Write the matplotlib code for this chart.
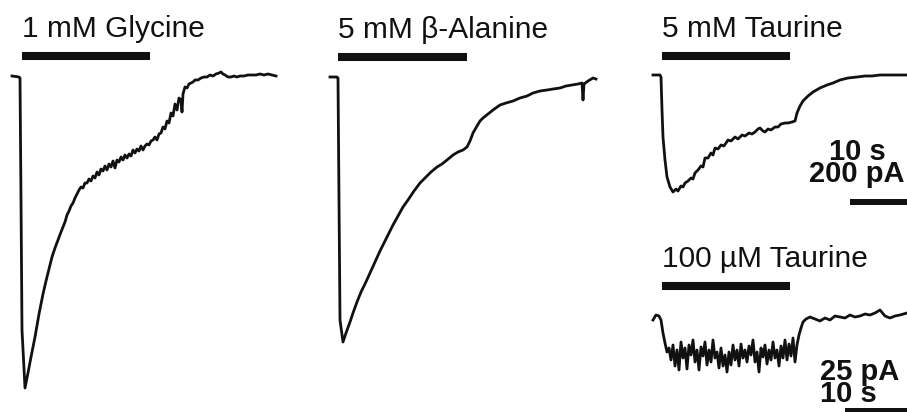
"""
Whole-cell currents evoked by glycine-receptor agonists.
Four traces, one invisible full-figure axes each, offset so the
traces sit side by side like the original figure.
"""
import matplotlib
matplotlib.use("Agg")
import matplotlib.pyplot as plt

plt.rcParams["font.family"] = ["Liberation Sans", "DejaVu Sans"]

W, H = 907, 412          # output size, px
PX_PER_S = 8.0           # horizontal scale shared by all traces

# ---- 1 mM glycine (s, pA) ----
GLY_T = [0, 0.875, 1.0, 1.125, 1.25, 1.625, 2.0, 2.375, 2.875, 3.375, 3.875,
         4.25, 4.625, 5.0, 5.375, 5.75, 6.125, 6.375, 6.625, 6.875, 7.125,
         7.375, 7.625, 7.875, 8.125, 8.375, 8.625, 8.875, 9.125, 9.375,
         9.625, 9.875, 10.125, 10.375, 10.625, 10.875, 11.125, 11.375,
         11.625, 11.875, 12.125, 12.375, 12.625, 12.875, 13.125, 13.375,
         13.625, 13.875, 14.125, 14.375, 14.625, 14.875, 15.125, 15.375,
         15.625, 15.875, 16.125, 16.375, 16.625, 16.875, 17.125, 17.375,
         17.625, 17.875, 18.125, 18.375, 18.625, 18.875, 19.125, 19.375,
         19.625, 19.875, 20.125, 20.375, 20.625, 20.875, 21.125, 21.25,
         21.375, 21.625, 21.875, 22.125, 22.375, 22.625, 22.875, 23.25,
         23.625, 24.0, 24.375, 24.75, 25.125, 25.5, 25.875, 26.125, 26.375,
         26.625, 27.0, 27.375, 27.75, 28.125, 28.5, 29.0, 29.5, 30.0, 30.5,
         31.0, 31.5, 32.0, 32.5, 33.0]
GLY_I = [0, -4, -8, -496, -1016, -1248, -1188, -1124, -1044, -952, -872,
         -820, -772, -724, -688, -656, -624, -604, -584, -556, -540,
         -520, -508, -488, -472, -456, -444, -448, -428, -428,
         -412, -420, -400, -408, -384, -396, -372, -380,
         -360, -376, -352, -364, -340, -368, -336, -344,
         -324, -336, -316, -328, -312, -320, -296, -308,
         -292, -300, -280, -296, -280, -272, -276, -260,
         -256, -244, -256, -232, -228, -204, -212, -180,
         -188, -148, -160, -112, -136, -88, -96, -144,
         -72, -44, -48, -32, -28, -24, -16, -16,
         -8, -4, -4, 4, 0, 8, 12, 16, 8,
         4, -4, -4, 0, -4, 0, 0, 4, 4, 4,
         8, 4, 8, 4, 0]

# ---- 5 mM beta-alanine (s, pA) ----
BALA_T = [0, 0.875, 1.0, 1.125, 1.25, 1.625, 2.0, 2.5, 2.875, 3.375, 3.875,
          4.375, 5.0, 5.625, 6.25, 7.125, 7.875, 8.5, 9.125, 9.75, 10.5,
          11.25, 12.0, 12.625, 13.375, 14.0, 14.625, 15.375, 16.0, 16.625,
          17.125, 17.5, 17.875, 18.375, 18.75, 19.125, 19.75, 20.375, 21.25,
          22.0, 22.875, 23.75, 24.625, 25.375, 26.25, 27.125, 27.875, 28.75,
          29.5, 30.25, 31.0, 31.5, 31.625, 31.75, 32.25, 32.875, 33.25]
BALA_I = [0, 0, -4, -492, -972, -1060, -1024, -980, -944, -900, -860,
          -828, -784, -740, -696, -640, -592, -556, -520, -492, -456,
          -424, -400, -380, -360, -348, -332, -312, -300, -292,
          -280, -256, -224, -196, -176, -164, -148, -132, -112,
          -104, -96, -84, -76, -64, -56, -52, -48, -44,
          -36, -32, -28, -24, -92, -28, -16, -4, -8]

# ---- 5 mM taurine (s, pA) ----
TAU5_T = [0, 0.875, 1.0, 1.125, 1.25, 1.5, 1.75, 2.125, 2.5, 2.875, 3.125,
          3.5, 3.75, 4.0, 4.375, 4.75, 5.0, 5.25, 5.625, 6.0, 6.25, 6.5,
          6.875, 7.25, 7.5, 7.75, 8.125, 8.5, 8.875, 9.375, 9.75, 10.25,
          10.625, 11.125, 11.5, 12.0, 12.375, 12.75, 13.125, 13.375, 13.75,
          14.0, 14.375, 14.75, 15.25, 15.625, 16.0, 16.5, 16.875, 17.375,
          17.75, 18.0, 18.375, 18.75, 19.375, 20.0, 20.875, 21.75, 22.5,
          23.375, 24.375, 25.5, 26.5, 27.375, 28.375, 29.625, 30.875, 31.75]
TAU5_I = [4, 4, -4, -136, -244, -336, -404, -444, -464, -452, -460,
          -440, -444, -428, -420, -408, -412, -388, -376, -360, -364, -328,
          -328, -308, -316, -288, -292, -276, -280, -256, -260, -244,
          -252, -236, -240, -228, -232, -224, -212, -208, -220,
          -224, -212, -216, -204, -204, -192, -188, -188, -184,
          -180, -148, -120, -100, -80, -64, -48, -36, -28,
          -16, -8, -4, 0, 0, 4, 4, 4, 4]

# ---- 100 uM taurine (s, pA) ----
TAU01_T = [0, 0.375, 0.75, 1.0, 1.25, 1.5, 1.75, 2.0, 2.25, 2.5, 2.75, 3.0,
           3.25, 3.5, 3.75, 4.0, 4.25, 4.5, 4.75, 5.0, 5.25, 5.5, 5.75, 6.0,
           6.25, 6.5, 6.75, 7.0, 7.25, 7.5, 7.75, 8.0, 8.25, 8.5, 8.75, 9.0,
           9.25, 9.5, 9.75, 10.0, 10.25, 10.5, 10.75, 11.0, 11.25, 11.5,
           11.75, 12.0, 12.25, 12.5, 12.75, 13.0, 13.25, 13.5, 13.75, 14.0,
           14.25, 14.5, 14.75, 15.0, 15.25, 15.5, 15.75, 16.0, 16.25, 16.5,
           16.75, 17.0, 17.25, 17.5, 17.75, 18.0, 18.25, 18.5, 18.75, 19.125,
           19.625, 20.25, 20.875, 21.5, 22.125, 22.75, 23.375, 24.0, 24.625,
           25.25, 25.875, 26.5, 27.125, 27.75, 28.375, 29.0, 29.625, 30.25,
           30.875, 31.75]
TAU01_I = [0, 5, 4, 0, -13, -23, -32, -28, -40, -25, -46, -30,
           -50, -22, -38, -28, -49, -25, -35, -20, -42, -30, -50, -27,
           -36, -22, -45, -30, -42, -20, -38, -32, -48, -28, -46, -35,
           -52, -32, -45, -25, -40, -30, -46, -24, -38, -30,
           -42, -26, -35, -20, -42, -32, -52, -28, -37, -25,
           -44, -30, -40, -22, -38, -30, -46, -26, -38, -20,
           -40, -24, -36, -18, -42, -25, -15, -8, -2, 1,
           3, 1, -1, 2, 0, 4, 3, 2, 5,
           3, 4, 6, 5, 7, 10, 4, 2, 4,
           5, 7]

# drug application windows (s)
GLY_APP = (1.25, 17.25)
BALA_APP = (1.0, 17.125)
TAU5_APP = (1.125, 17.125)
TAU01_APP = (1.125, 17.125)

INK = "#111111"
TRACE_LW = 2.0
BAR_LW = 5.8
SCALE_LW = 4.3
LABEL_FS = 21.5
SCALE_FS = 21


def make_axes(fig, x0, y0, pa_per_px):
    """Invisible axes over the whole figure; (0 s, 0 pA) lands at pixel (x0, y0)."""
    ax = fig.add_axes([0, 0, 1, 1])
    ax.set_xlim(-x0 / PX_PER_S, (W - x0) / PX_PER_S)
    ax.set_ylim(-(H - y0) * pa_per_px, y0 * pa_per_px)
    ax.axis("off")
    ax.patch.set_visible(False)
    return ax


def draw_trace(ax, t, i, app, label, bar_pa, label_pa):
    ax.plot(t, i, color=INK, lw=TRACE_LW, solid_joinstyle="round")
    ax.plot(app, [bar_pa, bar_pa], color=INK, lw=BAR_LW,
            solid_capstyle="butt")
    ax.text(app[0], label_pa, label, fontsize=LABEL_FS, color=INK,
            ha="left", va="baseline")


def scale_bar(ax, t0, i0, dt, di, label, lbl_t, lbl_i, ha, align):
    ax.plot([t0, t0 + dt, t0 + dt], [i0, i0, i0 + di], color=INK,
            lw=SCALE_LW, solid_capstyle="butt")
    # both scale labels as one stacked text block
    ax.text(lbl_t, lbl_i, label, fontsize=SCALE_FS, fontweight="bold",
            color=INK, ha=ha, va="baseline", multialignment=align,
            linespacing=0.72)


def main():
    fig = plt.figure(figsize=(W / 100, H / 100), dpi=100)

    ax = make_axes(fig, 12, 76, 4.0)
    draw_trace(ax, GLY_T, GLY_I, GLY_APP, "1 mM Glycine", 80, 156)

    ax = make_axes(fig, 330, 77, 4.0)
    draw_trace(ax, BALA_T, BALA_I, BALA_APP, "5 mM β-Alanine", 80, 156)

    ax = make_axes(fig, 653, 76, 4.0)
    draw_trace(ax, TAU5_T, TAU5_I, TAU5_APP, "5 mM Taurine", 80, 156)
    scale_bar(ax, 24.6, -504, 10, 200, "10 s\n200 pA",
              25.5, -424, "center", "center")

    ax = make_axes(fig, 653, 320, 1.0)
    draw_trace(ax, TAU01_T, TAU01_I, TAU01_APP, "100 µM Taurine", 34, 53)
    scale_bar(ax, 24.0, -91, 10, 25, "25 pA\n10 s",
              20.875, -82, "left", "left")

    fig.savefig("out.png", dpi=100)
    plt.close(fig)


if __name__ == "__main__":
    main()
